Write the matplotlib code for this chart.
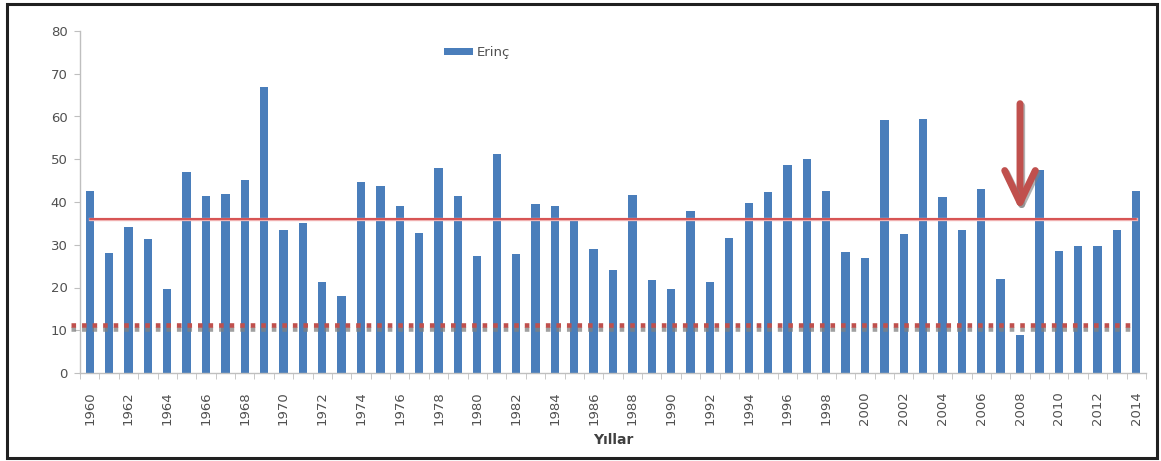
import matplotlib
matplotlib.use("Agg")
import matplotlib.pyplot as plt
import matplotlib.patheffects as pe
from matplotlib.patches import Rectangle
import numpy as np

years = list(range(1960, 2015))
erinc = [42.6, 28.0, 34.1, 31.3, 19.7, 47.1, 41.3, 41.8, 45.2, 66.8,
         33.4, 35.1, 21.4, 18.1, 44.7, 43.8, 39.1, 32.7, 48.0, 41.3,
         27.4, 51.3, 27.8, 39.5, 39.1, 36.0, 28.9, 24.2, 41.7, 21.8,
         19.7, 38.0, 21.3, 31.6, 39.7, 42.3, 48.7, 50.0, 42.6, 28.4,
         26.9, 59.2, 32.4, 59.5, 41.1, 33.5, 43.1, 22.1, 9.0, 47.5,
         28.6, 29.6, 29.8, 33.4, 42.6]
mean_level = 36.1
red_threshold = 11.2
gray_threshold = 10.2
arrow_year = 2008
arrow_from, arrow_to = 63.0, 38.0

legend_label = "Erinç"
xlabel = "Yıllar"

plt.rcParams['font.family'] = ['DejaVu Sans']

fig = plt.figure(figsize=(11.61, 4.61), dpi=100)
ax = fig.add_axes([80/1161, 88/461, (1146-80)/1161, (373-31)/461])

x = np.arange(len(years))
ax.bar(x, erinc, width=0.43, color='#4a7ebb', label=legend_label, zorder=2)

ax.set_xlim(-0.5, len(years) - 0.5)
ax.set_ylim(0, 80)
ax.set_yticks(range(0, 81, 10))

# x ticks: labels every 2 years, tick marks at category boundaries
ax.set_xticks(x[::2])
ax.set_xticklabels([str(y) for y in years[::2]], rotation=90)
ax.set_xticks(np.arange(-0.5, len(years), 1), minor=True)
ax.tick_params(axis='x', which='major', length=0, pad=13)
ax.tick_params(axis='x', which='minor', length=4, color='#bfbfbf', direction='out')
ax.tick_params(axis='y', length=4, color='#bfbfbf', direction='out', pad=5)
ax.tick_params(labelsize=9.5, labelcolor='#505050')

for s in ['top', 'right']:
    ax.spines[s].set_visible(False)
for s in ['left', 'bottom']:
    ax.spines[s].set_color('#bfbfbf')
    ax.spines[s].set_linewidth(1.0)

# mean line
ax.plot([x[0], x[-1]], [mean_level, mean_level], color='#d03a3a', lw=1.1, zorder=3,
        path_effects=[pe.Stroke(linewidth=2.4, foreground='#f0b0b0'), pe.Normal()])

# threshold dashed lines
ax.axhline(gray_threshold, xmin=-0.008, xmax=0.985, color='#808080', alpha=0.75,
           lw=3.3, ls=(0, (1.0, 1.3)), zorder=3, clip_on=False)
ax.axhline(red_threshold, xmin=-0.008, xmax=0.985, color='#c0504d',
           lw=3.3, ls=(0, (1.0, 1.3)), zorder=4, clip_on=False)

# arrow
ai = years.index(arrow_year)
ax.annotate('', xy=(ai, arrow_to), xytext=(ai, arrow_from),
            arrowprops=dict(arrowstyle='->,head_length=2.3,head_width=1.1',
                            color='#c0504d', lw=5, capstyle='round', joinstyle='round',
                            shrinkA=0, shrinkB=0,
                            path_effects=[pe.SimpleLineShadow(offset=(1.2, -1.5), shadow_color='gray', alpha=0.6), pe.Normal()]),
            zorder=5)

ax.set_xlabel(xlabel, fontsize=10, fontweight='bold', color='#404040', labelpad=6)

leg = ax.legend(loc='upper left', bbox_to_anchor=(0.33, 0.99), frameon=False,
                fontsize=9.5, handlelength=2.2, handleheight=0.5, handletextpad=0.3)
for t in leg.get_texts():
    t.set_color('#505050')

# outer frame
fig.patches.append(Rectangle((7/1161, 3/461), (1157-7)/1161, (457-3)/461,
                             transform=fig.transFigure, fill=False,
                             edgecolor='#202020', lw=2.2))

fig.savefig('out.png', dpi=100)
